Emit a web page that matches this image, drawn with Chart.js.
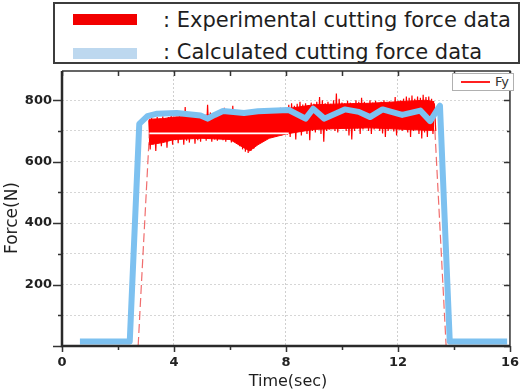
<!DOCTYPE html>
<html lang="en">
<head>
<meta charset="UTF-8">
<title>Cutting force Fy</title>
<script src="https://cdn.jsdelivr.net/npm/chart.js"></script>
<style>
    body {
        margin: 0;
        background: #fff;
        font-family: 'DejaVu Sans', sans-serif;
    }
    .wrap { position: relative; width: 528px; height: 392px; }
    #forceChart { position: absolute; left: 0; top: 0; }

    .topLegend {
        position: absolute; left: 53px; top: 2px;
        width: 467px; height: 62px;
        border: 2px solid #3c3c3c; box-sizing: border-box; background: #fff;
    }
    .topLegend .swatch { position: absolute; left: 18px; width: 64px; height: 11px; }
    .topLegend .txt {
        position: absolute; left: 108px; font-size: 21px; line-height: 24px;
        color: #1e1e1e; white-space: nowrap;
    }

    .fyLegend {
        position: absolute; left: 452px; top: 73px; width: 62px; height: 18px;
        border: 1px solid #b0b0b0; box-sizing: border-box; background: #fff;
    }
    .fyLegend .line { position: absolute; left: 8px; top: 7px; width: 29px; height: 2px; background: #ff2020; }
    .fyLegend .txt { position: absolute; left: 42px; top: 0; font-size: 13px; line-height: 16px; color: #333; }

    .axisTitle { position: absolute; color: #1e1e1e; white-space: nowrap; }
    #xTitle { left: 288px; top: 380px; font-size: 16px; transform: translate(-50%, -50%); }
    #yTitle { left: 11px; top: 218px; font-size: 17px; transform: translate(-50%, -50%) rotate(-90deg); }
</style>
</head>
<body>
<div class="wrap">
    <canvas id="forceChart" width="528" height="392"></canvas>

    <div class="topLegend">
        <div class="swatch" style="top:10px;background:#f20000;"></div>
        <div class="txt" style="top:4px;">: Experimental cutting force data</div>
        <div class="swatch" style="top:44px;background:#bdd8ef;"></div>
        <div class="txt" style="top:36px;">: Calculated cutting force data</div>
    </div>

    <div class="fyLegend">
        <div class="line"></div>
        <div class="txt">Fy</div>
    </div>

    <div class="axisTitle" id="xTitle">Time(sec)</div>
    <div class="axisTitle" id="yTitle">Force(N)</div>
</div>

<script>
    // measured force, sampled every 0.1 s from 3.1 s to 13.3 s (upper and lower peaks)
    var expStart = 3.1;
    var expStep = 0.1;
    var expHigh = [
        735, 742, 738, 745, 740, 748, 742, 745, 750, 744,
        746, 750, 748, 778, 745, 750, 752, 748, 755, 750,
        752, 785, 760, 748, 740, 755, 762, 775, 760, 770,
        782, 760, 758, 762, 755, 760, 758, 765, 760, 762,
        765, 762, 768, 770, 765, 772, 768, 775, 770, 772,
        785, 790, 782, 788, 795, 786, 790, 784, 792, 788,
        795, 810, 800, 790, 795, 788, 800, 822, 805, 792,
        790, 798, 792, 790, 800, 795, 808, 795, 790, 800,
        792, 798, 790, 795, 800, 790, 796, 792, 810, 798,
        800, 805, 812, 808, 815, 805, 812, 808, 818, 810,
        812, 805, 790
    ];
    var expLow = [
        640, 655, 635, 660, 650, 665, 645, 668, 655, 670,
        660, 672, 655, 668, 662, 675, 658, 670, 665, 678,
        668, 675, 665, 672, 668, 680, 670, 665, 675, 662,
        668, 660, 650, 640, 632, 628, 635, 642, 655, 668,
        675, 680, 685, 678, 688, 680, 690, 685, 692, 688,
        680, 695, 672, 700, 685, 705, 690, 670, 700, 695,
        708, 690, 665, 700, 705, 712, 700, 695, 708, 712,
        700, 685, 672, 700, 708, 690, 705, 712, 700, 690,
        705, 712, 700, 692, 680, 700, 708, 698, 685, 705,
        700, 710, 695, 680, 700, 705, 690, 675, 695, 680,
        700, 690, 700
    ];

    // dense core of the measured band
    var coreTime = [3.1, 3.6, 4.0, 5.0, 6.0, 6.4, 6.7, 7.0, 7.4, 8.0, 9.0, 10.0, 11.0, 12.0, 13.0, 13.3];
    var coreTop = [738, 740, 745, 750, 758, 760, 760, 762, 765, 772, 785, 788, 790, 795, 800, 795];
    var coreBottom = [655, 662, 672, 676, 672, 650, 635, 655, 676, 690, 705, 708, 710, 706, 702, 702];

    // rise and fall of the measured signal
    var rampTime = [2.72, 3.12, null, 13.32, 13.72];
    var rampForce = [0, 690, null, 700, 0];

    // light streak through the measured band
    var streakTime = [3.12, 8.1];
    var streakForce = [692, 692];

    // calculated force
    var calcTime = [0.64, 2.42, 2.76, 3.05, 3.4, 4.1, 4.95, 5.2, 5.45, 5.75, 6.5, 7.0, 8.1,
                    8.7, 8.97, 9.37, 10.1, 10.6, 11.0, 11.45, 12.15, 12.8, 13.15, 13.5, 13.85, 15.9];
    var calcForce = [15, 15, 723, 748, 756, 758, 750, 740, 752, 765, 758, 764, 768,
                     740, 772, 740, 770, 762, 745, 770, 752, 766, 732, 782, 15, 15];

    var xTickValues = [0, 2, 4, 6, 8, 10, 12, 14, 16];
    var yTickValues = [0, 100, 200, 300, 400, 500, 600, 700, 800];

    // zigzag between the peaks so the thin trace looks like the dense record
    var expPoints = [];
    for (var i = 0; i < expHigh.length; i++) {
        var t = expStart + i * expStep;
        expPoints.push({ x: t, y: expHigh[i] });
        expPoints.push({ x: t + expStep / 2, y: expLow[i] });
    }

    function pairs(xs, ys) {
        return xs.map(function (v, k) { return { x: v, y: ys[k] }; });
    }

    // frame plus tick marks (outside on left/bottom, inside on top/right)
    var frameTicks = {
        id: 'frameTicks',
        afterDraw: function (chart) {
            var ctx = chart.ctx, a = chart.chartArea;
            var x = chart.scales.x, y = chart.scales.y;
            ctx.save();
            ctx.strokeStyle = '#333';
            ctx.lineWidth = 1.5;
            ctx.beginPath();
            xTickValues.forEach(function (v) {
                var px = Math.round(x.getPixelForValue(v)) + 0.5;
                var len = v % 4 === 0 ? 6 : 4;
                ctx.moveTo(px, a.bottom); ctx.lineTo(px, a.bottom + len);
                ctx.moveTo(px, a.top); ctx.lineTo(px, a.top + 5);
            });
            yTickValues.forEach(function (v) {
                var py = Math.round(y.getPixelForValue(v)) + 0.5;
                var len = v % 200 === 0 ? 9 : 4;
                ctx.moveTo(a.left, py); ctx.lineTo(a.left - len, py);
                ctx.moveTo(a.right, py); ctx.lineTo(a.right - (v % 200 === 0 ? 6 : 3), py);
            });
            ctx.stroke();

            ctx.lineWidth = 1.5;
            ctx.beginPath();
            ctx.moveTo(a.left, a.top); ctx.lineTo(a.right, a.top); ctx.lineTo(a.right, a.bottom);
            ctx.stroke();
            ctx.lineWidth = 2.5;
            ctx.strokeStyle = '#2a2a2a';
            ctx.beginPath();
            ctx.moveTo(a.left, a.top); ctx.lineTo(a.left, a.bottom); ctx.lineTo(a.right, a.bottom);
            ctx.stroke();
            ctx.restore();
        }
    };

    var ctx = document.getElementById('forceChart').getContext('2d');
    var forceChart = new Chart(ctx, {
        type: 'line',
        data: {
            datasets: [
                {
                    label: 'Calculated cutting force data',
                    data: pairs(calcTime, calcForce),
                    borderColor: 'rgb(125, 193, 240)',
                    borderWidth: 6,
                    borderJoinStyle: 'round',
                    pointRadius: 0,
                    tension: 0,
                    order: 0
                },
                {
                    label: 'streak',
                    data: pairs(streakTime, streakForce),
                    borderColor: '#ffffff',
                    borderWidth: 1.6,
                    pointRadius: 0,
                    order: 1
                },
                {
                    label: 'ramp',
                    data: pairs(rampTime, rampForce),
                    borderColor: 'rgba(235, 60, 60, 0.75)',
                    borderWidth: 1.2,
                    borderDash: [9, 4],
                    pointRadius: 0,
                    spanGaps: false,
                    order: 2
                },
                {
                    label: 'Fy',
                    data: expPoints,
                    borderColor: '#ff0000',
                    borderWidth: 1.2,
                    pointRadius: 0,
                    tension: 0,
                    order: 3
                },
                {
                    label: 'core top',
                    data: pairs(coreTime, coreTop),
                    borderColor: '#ff0000',
                    borderWidth: 1,
                    pointRadius: 0,
                    fill: false,
                    order: 4
                },
                {
                    label: 'core bottom',
                    data: pairs(coreTime, coreBottom),
                    borderColor: '#ff0000',
                    backgroundColor: '#ff0000',
                    borderWidth: 1,
                    pointRadius: 0,
                    fill: '-1',
                    order: 5
                }
            ]
        },
        options: {
            responsive: false,
            animation: false,
            events: [],
            layout: { padding: { left: 0, right: 11, top: 71, bottom: 0 } },
            plugins: {
                legend: { display: false },
                tooltip: { enabled: false }
            },
            scales: {
                x: {
                    type: 'linear',
                    min: 0,
                    max: 16,
                    afterFit: function (s) { s.height = 46; },
                    border: { display: false, dash: [2, 2] },
                    grid: {
                        drawTicks: false,
                        lineWidth: 1,
                        color: function (c) {
                            var v = c.tick ? c.tick.value : 0;
                            return (v % 4 === 0 && v > 0 && v < 16) ? '#cfcfcf' : 'rgba(0,0,0,0)';
                        }
                    },
                    ticks: {
                        stepSize: 2,
                        autoSkip: false,
                        maxRotation: 0,
                        padding: 9,
                        color: '#222',
                        font: { family: 'DejaVu Sans', size: 13, weight: 'bold' },
                        callback: function (v) { return v % 4 === 0 ? v : ''; }
                    }
                },
                y: {
                    type: 'linear',
                    min: 0,
                    max: 895,
                    afterFit: function (s) { s.width = 62; },
                    afterBuildTicks: function (s) {
                        s.ticks = yTickValues.map(function (v) { return { value: v }; });
                    },
                    border: { display: false, dash: [2, 2] },
                    grid: {
                        drawTicks: false,
                        lineWidth: 1,
                        color: function (c) {
                            var v = c.tick ? c.tick.value : 0;
                            return (v % 100 === 0 && v > 0) ? '#d6d6d6' : 'rgba(0,0,0,0)';
                        }
                    },
                    ticks: {
                        autoSkip: false,
                        padding: 10,
                        color: '#222',
                        font: { family: 'DejaVu Sans', size: 13, weight: 'bold' },
                        callback: function (v) { return (v > 0 && v % 200 === 0) ? v : ''; }
                    }
                }
            }
        },
        plugins: [frameTicks]
    });
</script>
</body>
</html>
